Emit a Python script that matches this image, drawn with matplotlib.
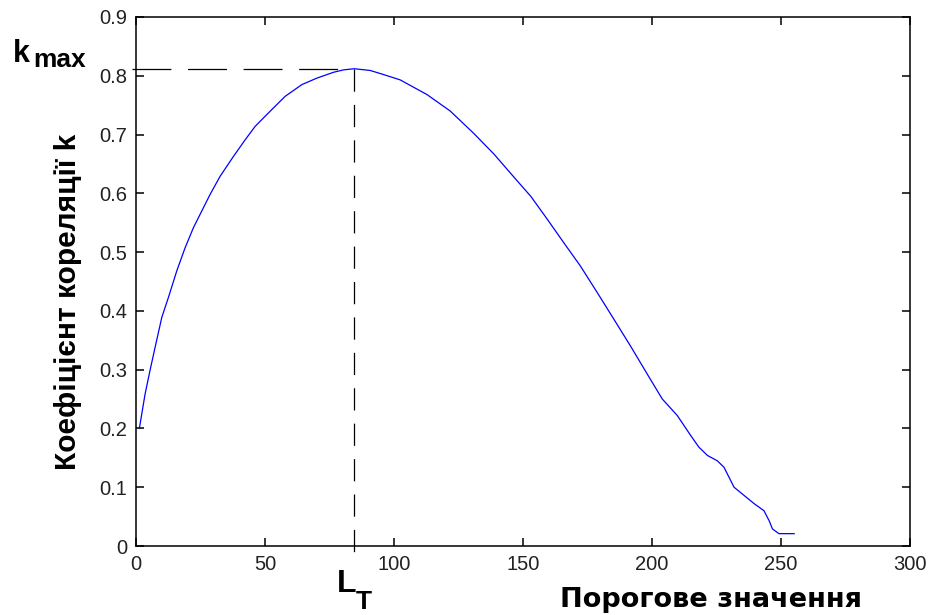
import matplotlib
matplotlib.use("Agg")
import matplotlib.pyplot as plt

# ---- data ----
threshold = [1.3, 3.5, 5.4, 7.4, 10.0, 12.5, 15.8, 19.0, 22.2, 25.5, 28.7, 32.6,
             37.8, 42.3, 46.2, 50.7, 57.8, 64.3, 70.1, 76.6, 80.4, 84.6, 90.8,
             96.0, 102.4, 112.8, 121.8, 130.9, 138.7, 146.4, 153.0, 159.4, 165.8,
             172.3, 178.8, 185.2, 191.7, 198.5, 204.0, 209.8, 215.0, 218.2, 221.5,
             225.3, 227.9, 231.8, 235.7, 239.6, 243.4, 245.4, 246.7, 249.2, 255.1]
corr_k = [0.200, 0.258, 0.298, 0.338, 0.389, 0.422, 0.468, 0.507, 0.541, 0.570,
          0.598, 0.629, 0.663, 0.691, 0.714, 0.734, 0.765, 0.785, 0.796, 0.806,
          0.810, 0.812, 0.809, 0.802, 0.793, 0.768, 0.740, 0.702, 0.667, 0.628,
          0.595, 0.556, 0.516, 0.476, 0.431, 0.386, 0.340, 0.290, 0.250, 0.222,
          0.188, 0.168, 0.154, 0.145, 0.134, 0.100, 0.086, 0.072, 0.060, 0.043,
          0.029, 0.021, 0.021]
k_max = 0.812
L_T = 84.6
x_ticks = [0, 50, 100, 150, 200, 250, 300]
y_ticks = [0, 0.1, 0.2, 0.3, 0.4, 0.5, 0.6, 0.7, 0.8, 0.9]
y_ticklabels = ["0", "0.1", "0.2", "0.3", "0.4", "0.5", "0.6", "0.7", "0.8", "0.9"]
x_label = "Порогове значення"
y_label = "Коефіцієнт кореляції k"

W, H = 933, 615
plt.rcParams['lines.scale_dashes'] = False
fig = plt.figure(figsize=(W / 100, H / 100), dpi=100)
fig.patch.set_facecolor("white")

def fx(px):
    return px / W

def fy(py):
    return 1 - py / H

ax = fig.add_axes([fx(136), fy(546), (910 - 136) / W, (546 - 17) / H])
ax.plot(threshold, corr_k, color="#0000ff", lw=0.9)

ax.set_xlim(0, 300)
ax.set_ylim(0, 0.9)
ax.set_xticks(x_ticks)
ax.set_yticks(y_ticks)
ax.set_yticklabels(y_ticklabels)
for s in ax.spines.values():
    s.set_linewidth(1.1)
    s.set_color("black")
ax.tick_params(direction="in", length=5.5, width=1.1, top=True, right=True,
               labelsize=14.5, pad=6.5, labelcolor="#222222")
for lab in ax.get_xticklabels() + ax.get_yticklabels():
    lab.set_family(["Liberation Sans", "DejaVu Sans"])

# dashed guide lines
ax.plot([-1.7, L_T], [k_max, k_max], color="black", lw=0.9,
        dashes=(28, 12), clip_on=False)
ax.plot([L_T, L_T], [k_max, -0.021], color="black", lw=0.9,
        dashes=(16, 9.5), clip_on=False)

# labels
fig.text(fx(711), fy(607), x_label, ha="center", va="baseline",
         fontsize=19.5, fontweight="bold", family=["DejaVu Sans"])
fig.text(fx(68), fy(302), y_label, ha="center", va="center", rotation=90,
         fontsize=21.5, fontweight="bold", family=["Liberation Sans", "DejaVu Sans"])

# k_max annotation
fig.text(fx(12.5), fy(61.7), "k", ha="left", va="baseline",
         fontsize=22, fontweight="bold", family=["Liberation Sans", "DejaVu Sans"])
fig.text(fx(33.5), fy(67.3), "max", ha="left", va="baseline",
         fontsize=19, fontweight="bold", family=["Liberation Sans", "DejaVu Sans"])

# L_T annotation
fig.text(fx(337), fy(592), "L", ha="left", va="baseline",
         fontsize=23, fontweight="bold", family=["Liberation Sans", "DejaVu Sans"])
fig.text(fx(356), fy(609), "T", ha="left", va="baseline",
         fontsize=19, fontweight="bold", family=["Liberation Sans", "DejaVu Sans"])

fig.savefig("out.png", dpi=100, facecolor="white")
